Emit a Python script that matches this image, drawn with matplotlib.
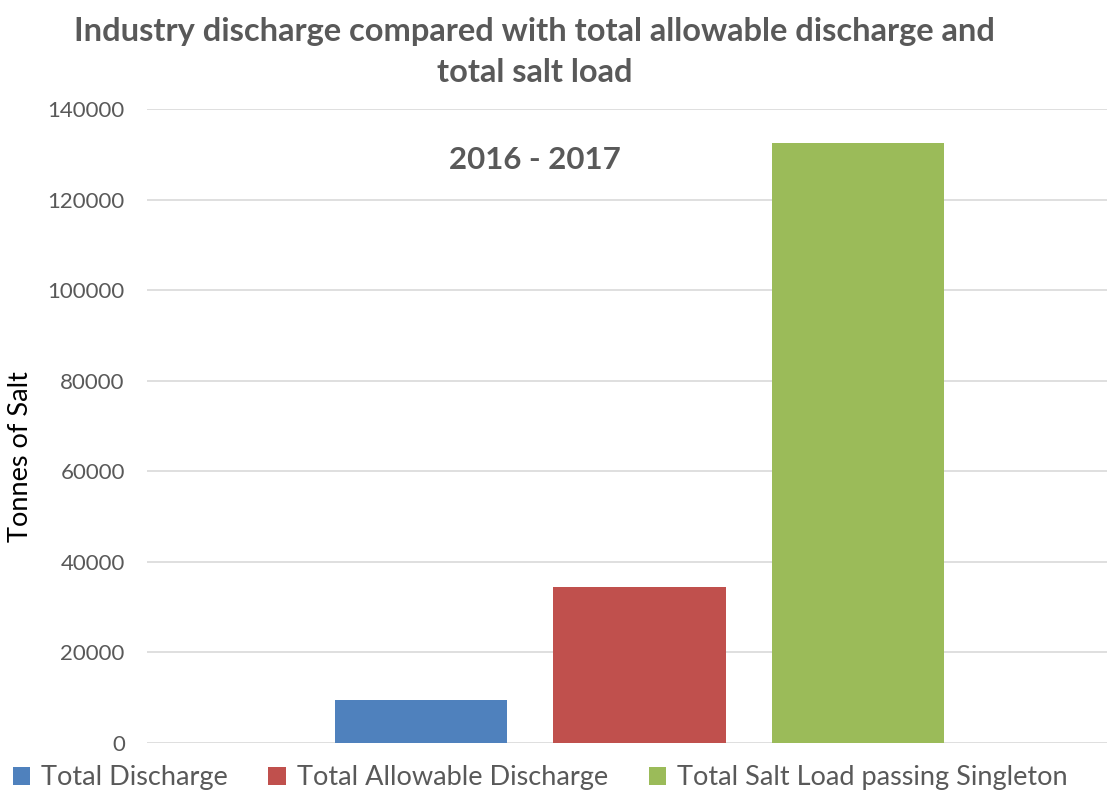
import numpy as np
import matplotlib.pyplot as plt
from matplotlib.patches import Patch

series = ['Total Discharge', 'Total Allowable Discharge', 'Total Salt Load passing Singleton']
values = [9500, 34400, 132400]
colors = ['#4F81BD', '#C0504D', '#9BBB59']
yticks = [0, 20000, 40000, 60000, 80000, 100000, 120000, 140000]

plt.rcParams['font.family'] = ['Lato', 'DejaVu Sans']
grey = '#595959'

fig = plt.figure(figsize=(11.07, 7.91), dpi=100)
ax = fig.add_axes([0.1328, 0.0607, 0.8898, 0.8015])

xs = np.arange(len(values))
ax.bar(xs, values, width=0.79, color=colors, zorder=3)

ax.set_xlim(-1.257, 3.257)
ax.set_ylim(0, 140000)
ax.set_yticks(yticks)
ax.set_yticklabels([str(t) for t in yticks], color=grey, fontsize=16)
ax.set_xticks([])
ax.tick_params(axis='y', length=0, pad=16)
ax.grid(axis='y', color='#D9D9D9', linewidth=1.2, zorder=0)
for s in ax.spines.values():
    s.set_visible(False)

ax.set_ylabel('Tonnes of Salt', fontsize=19.5, color='black')
ax.yaxis.set_label_coords(-0.116, 0.451)

fig.text(0.483, 0.934, 'Industry discharge compared with total allowable discharge and\ntotal salt load',
         ha='center', va='center', fontsize=23.5, fontweight='bold', color=grey, linespacing=1.5)
fig.text(0.483, 0.798, '2016 - 2017', ha='center', va='center', fontsize=22.5,
         fontweight='bold', color=grey)

handles = [Patch(facecolor=c) for c in colors]
fig.legend(handles, series, loc='center', bbox_to_anchor=(0.488, 0.017), ncol=3,
           frameon=False, fontsize=19.5, labelcolor=grey, handlelength=0.65,
           handleheight=0.65, handletextpad=0.4, columnspacing=1.5)

fig.savefig('out.png', dpi=100)
